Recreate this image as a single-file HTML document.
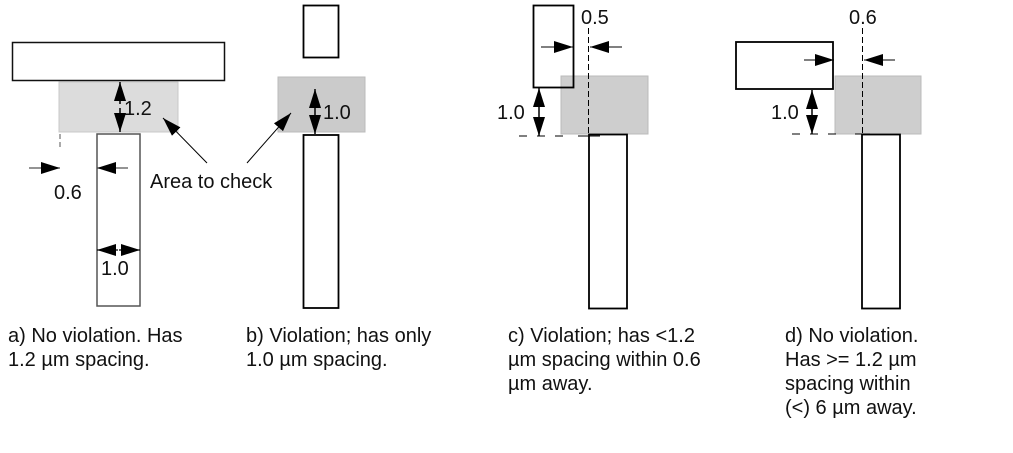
<!DOCTYPE html>
<html><head><style>
html,body{margin:0;padding:0;background:#fff;}
svg{display:block;}
text{font-family:"Liberation Sans",sans-serif;font-size:20px;fill:#111;}
</style></head><body>
<svg width="1013" height="453" viewBox="0 0 1013 453" xmlns="http://www.w3.org/2000/svg">
<defs>
<marker id="ahb" markerWidth="19" markerHeight="12" refX="19" refY="6" orient="auto" markerUnits="userSpaceOnUse">
<path d="M0,0 L19,6 L0,12 Z" fill="#000"/>
</marker>
</defs>
<!-- a -->
<rect x="59" y="82" width="119" height="50" fill="#dcdcdc" stroke="#c8c8c8"/>
<rect x="12.5" y="42.5" width="212" height="38" fill="#fff" stroke="#111" stroke-width="1.5"/>
<rect x="97" y="134" width="43" height="172" fill="#fff" stroke="#555" stroke-width="1.5"/>
<line x1="120" y1="104" x2="120" y2="82" stroke="#000" stroke-width="1.5" marker-end="url(#ahb)"/>
<line x1="120" y1="108" x2="120" y2="132" stroke="#000" stroke-width="1.5" marker-end="url(#ahb)"/>
<text x="124" y="115">1.2</text>
<line x1="60" y1="134" x2="60" y2="150" stroke="#555" stroke-dasharray="5,3"/>
<line x1="29" y1="168" x2="60" y2="168" stroke="#555" stroke-width="1.2" marker-end="url(#ahb)"/>
<line x1="128" y1="168" x2="97" y2="168" stroke="#555" stroke-width="1.2" marker-end="url(#ahb)"/>
<text x="54" y="199">0.6</text>
<line x1="118" y1="250" x2="97" y2="250" stroke="#000" stroke-width="1.2" marker-end="url(#ahb)"/>
<line x1="119" y1="250" x2="140" y2="250" stroke="#000" stroke-width="1.2" marker-end="url(#ahb)"/>
<text x="101" y="275">1.0</text>
<!-- b -->
<rect x="278" y="77" width="87" height="55" fill="#cbcbcb" stroke="#bbb"/>
<rect x="303.5" y="5.5" width="35" height="52" fill="#fff" stroke="#000" stroke-width="1.8"/>
<rect x="303.5" y="135" width="35" height="173" fill="#fff" stroke="#000" stroke-width="1.8"/>
<line x1="315" y1="104" x2="315" y2="89" stroke="#000" stroke-width="1.5" marker-end="url(#ahb)"/>
<line x1="315" y1="104" x2="315" y2="134" stroke="#000" stroke-width="1.5" marker-end="url(#ahb)"/>
<text x="323" y="119">1.0</text>
<text x="150" y="188">Area to check</text>
<line x1="207" y1="163" x2="163" y2="118" stroke="#000" stroke-width="1" marker-end="url(#ahb)"/>
<line x1="247" y1="163" x2="291" y2="113" stroke="#000" stroke-width="1" marker-end="url(#ahb)"/>
<!-- c -->
<rect x="561" y="76" width="87" height="58" fill="#cecece" stroke="#bbb"/>
<rect x="533.5" y="5.5" width="40" height="82" fill="none" stroke="#000" stroke-width="1.8"/>
<rect x="589" y="134.5" width="38" height="174" fill="#fff" stroke="#000" stroke-width="1.8"/>
<line x1="588.5" y1="28" x2="588.5" y2="134" stroke="#000" stroke-dasharray="6,3"/>
<text x="581" y="24">0.5</text>
<line x1="541" y1="47" x2="573" y2="47" stroke="#000" stroke-width="1" marker-end="url(#ahb)"/>
<line x1="622" y1="47" x2="590" y2="47" stroke="#000" stroke-width="1" marker-end="url(#ahb)"/>
<line x1="539" y1="112" x2="539" y2="88" stroke="#000" stroke-width="1.5" marker-end="url(#ahb)"/>
<line x1="539" y1="112" x2="539" y2="136" stroke="#000" stroke-width="1.5" marker-end="url(#ahb)"/>
<text x="497" y="119">1.0</text>
<line x1="519" y1="136" x2="566" y2="136" stroke="#000" stroke-dasharray="8,10"/>
<line x1="578" y1="136" x2="600" y2="136" stroke="#000"/>
<!-- d -->
<rect x="835" y="76" width="86" height="58" fill="#cecece" stroke="#bbb"/>
<rect x="736" y="42" width="97" height="47" fill="#fff" stroke="#000" stroke-width="1.8"/>
<rect x="862" y="134.5" width="38" height="174" fill="#fff" stroke="#000" stroke-width="1.8"/>
<line x1="862.5" y1="28" x2="862.5" y2="134" stroke="#000" stroke-dasharray="6,3"/>
<text x="849" y="24">0.6</text>
<line x1="804" y1="60" x2="834" y2="60" stroke="#000" stroke-width="1" marker-end="url(#ahb)"/>
<line x1="895" y1="60" x2="864" y2="60" stroke="#000" stroke-width="1" marker-end="url(#ahb)"/>
<line x1="812" y1="112" x2="812" y2="90" stroke="#000" stroke-width="1.5" marker-end="url(#ahb)"/>
<line x1="812" y1="112" x2="812" y2="134" stroke="#000" stroke-width="1.5" marker-end="url(#ahb)"/>
<text x="771" y="119">1.0</text>
<line x1="792" y1="134" x2="838" y2="134" stroke="#000" stroke-dasharray="8,10"/>
<line x1="855" y1="134" x2="870" y2="134" stroke="#000"/>
<!-- captions -->
<text x="8" y="342">a) No violation. Has</text>
<text x="8" y="366">1.2 µm spacing.</text>
<text x="246" y="342">b) Violation; has only</text>
<text x="246" y="366">1.0 µm spacing.</text>
<text x="508" y="342">c) Violation; has &lt;1.2</text>
<text x="508" y="366">µm spacing within 0.6</text>
<text x="508" y="390">µm away.</text>
<text x="785" y="342">d) No violation.</text>
<text x="785" y="366">Has &gt;= 1.2 µm</text>
<text x="785" y="390">spacing within</text>
<text x="785" y="414">(&lt;) 6 µm away.</text>
</svg>
</body></html>
